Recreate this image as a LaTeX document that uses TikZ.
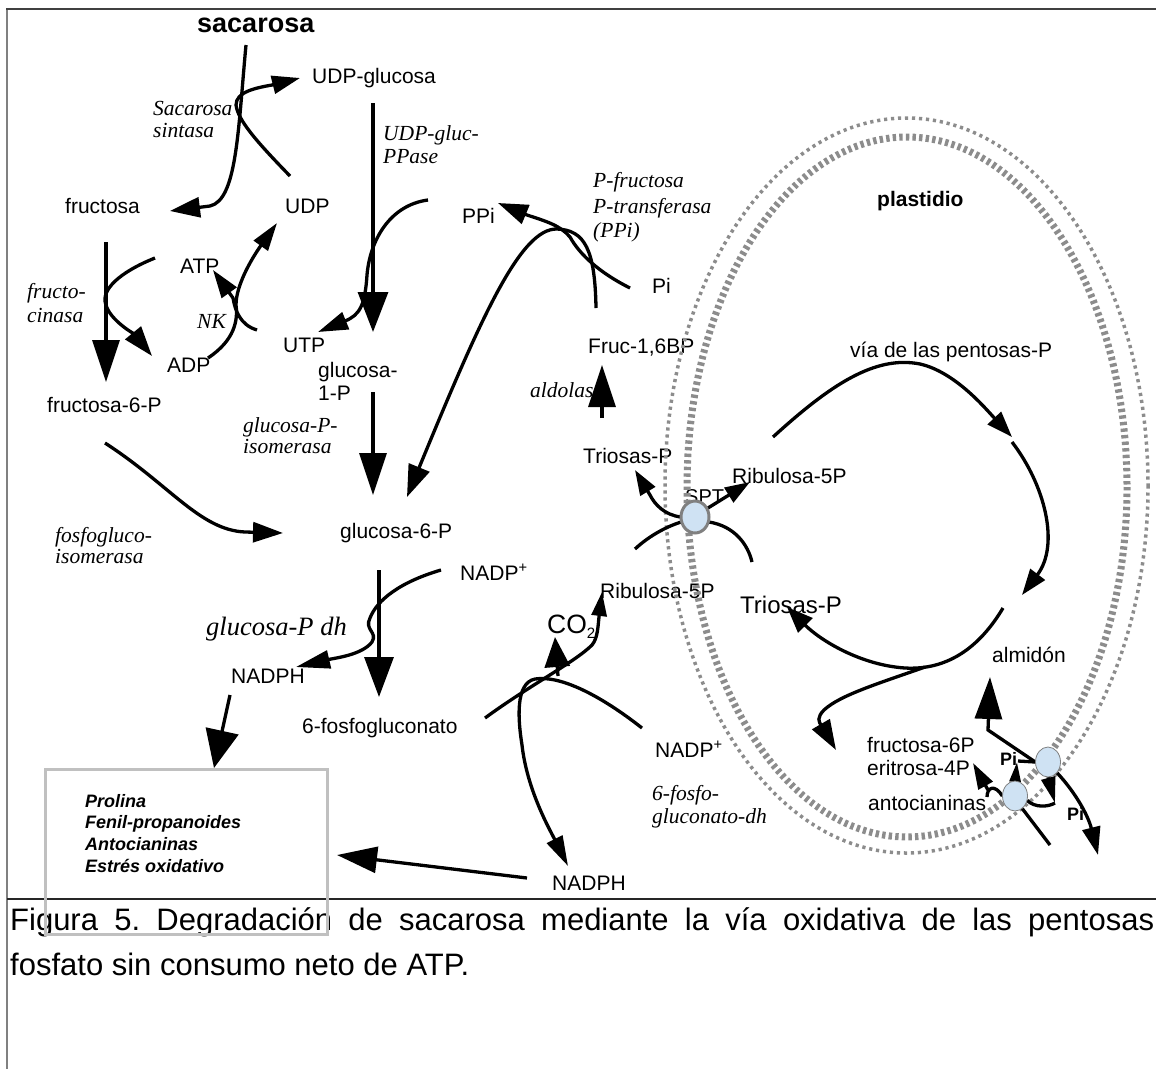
\documentclass[tikz,border=0pt]{standalone}
\usepackage{fontspec}
\setmainfont{Liberation Sans}
\newfontfamily\tnr{Liberation Serif}
\usetikzlibrary{arrows.meta,shapes.geometric}
\definecolor{memgray}{RGB}{140,140,140}
\definecolor{spfill}{RGB}{207,226,243}
\definecolor{boxgray}{RGB}{192,192,192}
\frenchspacing
\tikzset{
  lab/.style={inner sep=0pt, anchor=base west, font=\fontsize{21}{23}\selectfont},
  enz/.style={inner sep=0pt, anchor=base west, font=\tnr\itshape\fontsize{21.5}{23}\selectfont},
  boxtxt/.style={inner sep=0pt, anchor=base west, font=\bfseries\itshape\fontsize{18}{21}\selectfont},
  ln/.style={line width=3.3pt},
  aL/.style={ln, -{Triangle[length=42pt,width=27pt]}},
  aM/.style={ln, -{Triangle[length=30pt,width=20pt]}},
  aS/.style={ln, -{Triangle[length=25pt,width=17pt]}},
  memo/.style={draw=memgray, line width=3.5pt, dash pattern=on 3.2pt off 3.8pt},
  memi/.style={draw=memgray, line width=7pt, dash pattern=on 3.4pt off 3.2pt},
  transp/.style={ellipse, fill=spfill, inner sep=0pt},
}
\begin{document}
\begin{tikzpicture}[x=1pt,y=-1pt]
\useasboundingbox (0,0) rectangle (1156,1069);
% frame
\draw[line width=2.5pt, black!50] (7,9) -- (7,1069);
\draw[line width=2.5pt, black!75] (6,9) -- (1156,9);
\draw[line width=1.8pt, black!85] (7,899) -- (1156,899);

% ---------- labels ----------
\node[lab, font=\bfseries\fontsize{27}{30}\selectfont] (sac) at (197,32) {sacarosa};
\node[lab] (udpg) at (312,83) {UDP-glucosa};
\node[enz] (ss1) at (153,115) {Sacarosa};
\node[enz] (ss2) at (153,137) {sintasa};
\node[enz] (up1) at (383,140) {UDP-gluc-};
\node[enz] (up2) at (383,163) {PPase};
\node[lab] (fru) at (65,213) {fructosa};
\node[lab] (udp) at (285,213) {UDP};
\node[lab] (ppi) at (462,223) {PPi};
\node[enz] (pf1) at (593,187) {P-fructosa};
\node[enz] (pf2) at (593,213) {P-transferasa};
\node[enz] (pf3) at (593,237) {(PPi)};
\node[lab, font=\bfseries\fontsize{21}{23}\selectfont] (plast) at (877,206) {plastidio};
\node[lab] (atp) at (180,273) {ATP};
\node[lab] (pi) at (652,293) {Pi};
\node[enz] (fk1) at (27,298) {fructo-};
\node[enz] (fk2) at (27,322) {cinasa};
\node[enz] (nk) at (197,328) {NK};
\node[lab] (utp) at (283,352) {UTP};
\node[lab] (fbp) at (588,353) {Fruc-1,6BP};
\node[lab] (via) at (850,357) {vía de las pentosas-P};
\node[lab] (adp) at (167,372) {ADP};
\node[lab] (g1pa) at (318,377) {glucosa-};
\node[lab] (g1pb) at (318,400) {1-P};
\node[enz] (ald) at (530,397) {aldolasa};
\node[lab] (f6p) at (47,412) {fructosa-6-P};
\node[enz] (gpi1) at (243,432) {glucosa-P-};
\node[enz] (gpi2) at (243,453) {isomerasa};
\node[lab] (tp1) at (583,463) {Triosas-P};
\node[lab] (ru1) at (732,483) {Ribulosa-5P};
\node[lab, font=\fontsize{20}{22}\selectfont] (sptl) at (685,503) {SPT};
\node[lab] (g6p) at (340,538) {glucosa-6-P};
\node[enz] (pgi1) at (55,542) {fosfogluco-};
\node[enz] (pgi2) at (55,563) {isomerasa};
\node[lab] (nadp1) at (460,580) {NADP\textsuperscript{+}};
\node[lab] (ru2) at (600,598) {Ribulosa-5P};
\node[lab, font=\fontsize{24}{26}\selectfont] (tp2) at (740,613) {Triosas-P};
\node[lab, font=\fontsize{26.5}{28}\selectfont] (co2) at (547,633) {CO\raisebox{-5pt}{\fontsize{15}{15}\selectfont 2}};
\node[enz, font=\tnr\itshape\fontsize{26.5}{28}\selectfont] (g6pdh) at (206,635) {glucosa-P dh};
\node[lab] (alm) at (992,662) {almidón};
\node[lab] (nadph1) at (231,683) {NADPH};
\node[lab] (pg6) at (302,733) {6-fosfogluconato};
\node[lab] (nadp2) at (655,757) {NADP\textsuperscript{+}};
\node[lab] (f6pb) at (867,752) {fructosa-6P};
\node[lab] (e4p) at (867,775) {eritrosa-4P};
\node[lab] (anto) at (868,810) {antocianinas};
\node[lab, font=\bfseries\fontsize{18}{20}\selectfont] (pia) at (1000,765) {Pi};
\node[lab, font=\bfseries\fontsize{18}{20}\selectfont] (pib) at (1067,820) {Pi};
\node[enz] (pgd1) at (652,800) {6-fosfo-};
\node[enz] (pgd2) at (652,823) {gluconato-dh};
\node[boxtxt] (bx1) at (85,807) {Prolina};
\node[boxtxt] (bx2) at (85,828) {Fenil-propanoides};
\node[boxtxt] (bx3) at (85,850) {Antocianinas};
\node[boxtxt] (bx4) at (85,872) {Estrés oxidativo};
\node[lab] (nadph2) at (552,890) {NADPH};

% ---------- plastid membranes ----------
\draw[memo] (906.5,485.5) ellipse [x radius=241.5, y radius=367.5];
\draw[memi] (907,487) ellipse [x radius=220, y radius=350];

% ---------- coordinates ----------
\coordinate (sucTop) at (246,45);
\coordinate (fruTip) at (170,211);
\coordinate (udpS) at (290,176);
\coordinate (udpgTip) at (300,78);
\coordinate (fruS) at (106,242);
\coordinate (f6pTip) at (106,382);
\coordinate (atpS) at (155,258);
\coordinate (adpTip) at (152,356);
\coordinate (adpS) at (208,358);
\coordinate (udpTip) at (277,223);
\coordinate (ntS) at (257,330);
\coordinate (atpTip) at (213,270);
\coordinate (upT) at (373,103);
\coordinate (g1pTip) at (373,332);
\coordinate (ppiS) at (428,200);
\coordinate (utpTip) at (318,332);
\coordinate (g1pS) at (373,392);
\coordinate (g6pTipA) at (373,495);
\coordinate (f6pS) at (105,443);
\coordinate (g6pTipB) at (283,533);
\coordinate (piS) at (630,288);
\coordinate (ppiTip) at (498,203);
\coordinate (fbpS) at (596,308);
\coordinate (g6pTipC) at (407,497);
\coordinate (tpS) at (602,418);
\coordinate (fbpTip) at (602,365);
\coordinate (tp1Tip) at (635,470);
\coordinate (ru1Tip) at (750,482);
\coordinate (sptL) at (635,549);
\coordinate (sptR) at (752,562);
\coordinate (pcS) at (773,437);
\coordinate (pcT1) at (1012,437);
\coordinate (pcR) at (1012,442);
\coordinate (pcT2) at (1022,595);
\coordinate (pcB) at (1003,608);
\coordinate (tp2Tip) at (787,607);
\coordinate (pcC) at (925,667);
\coordinate (dnTip) at (836,750);
\coordinate (g6pS) at (379,570);
\coordinate (pgTip) at (379,697);
\coordinate (nadp1S) at (441,570);
\coordinate (nadph1Tip) at (296,667);
\coordinate (nadph1S) at (230,695);
\coordinate (boxTipA) at (214,768);
\coordinate (nadph2S) at (527,878);
\coordinate (boxTipB) at (337,855);
\coordinate (pgS) at (485,718);
\coordinate (ru2Tip) at (602,592);
\coordinate (co2S) at (558,676);
\coordinate (co2Tip) at (555,637);
\coordinate (nadp2S) at (642,728);
\coordinate (nadph2Tip) at (568,866);
\coordinate (almK) at (988,730);
\coordinate (almTip) at (990,677);
\coordinate (piaL) at (1018,761);
\coordinate (piaTip) at (1017,762);
\coordinate (dnTipB) at (1055,803);
\coordinate (pibTip) at (1098,855);
\coordinate (e4pS) at (988,790);
\coordinate (e4pTip) at (973,763);
\coordinate (tBend) at (1050,845);

% transporter nodes (positions)
\node[transp, minimum width=28pt, minimum height=32pt] (spt) at (695,517) {};
\node[transp, minimum width=25pt, minimum height=30pt] (tA) at (1048,762) {};
\node[transp, minimum width=25pt, minimum height=30pt] (tB) at (1015,796) {};

% ---------- connectors ----------
% sacarosa sintasa
\draw[ln, -{Triangle[length=30pt,width=20pt]}] (sucTop) .. controls (238,130) and (237,200) .. (210,206) -- (fruTip);
\draw[ln, -{Triangle[length=28pt,width=18pt]}] (udpS) .. controls (255,140) and (238,120) .. (236,105) .. controls (236,92) and (255,88) .. (272,85) -- (udpgTip);
% fructocinasa
\draw[aL] (fruS) -- (f6pTip);
\draw[aM] (atpS) .. controls (120,272) and (100,290) .. (106,305) .. controls (110,320) and (134,334) .. (adpTip);
% NK
\draw[ln, -{Triangle[length=28pt,width=17pt]}] (adpS) .. controls (235,340) and (238,320) .. (236,305) .. controls (236,285) and (252,258) .. (udpTip);
\draw[ln, -{Triangle[length=28pt,width=18pt]}] (ntS) .. controls (240,325) and (235,310) .. (233,298) -- (atpTip);
% UDP-gluc-PPase
\draw[ln, -{Triangle[length=40pt,width=30pt]}] (upT) -- (g1pTip);
\draw[ln, -{Triangle[length=30pt,width=18pt]}] (ppiS) .. controls (390,205) and (370,240) .. (367,275) .. controls (365,305) and (360,315) .. (345,321) -- (utpTip);
% glucosa-P-isomerasa
\draw[aL] (g1pS) -- (g6pTipA);
% fosfogluco-isomerasa
\draw[aM] (f6pS) .. controls (170,485) and (200,530) .. (245,532) -- (g6pTipB);
% PFP
\draw[aM] (piS) .. controls (600,273) and (580,255) .. (570,237) .. controls (560,225) and (545,221) .. (527,215) -- (ppiTip);
\draw[ln, -{Triangle[length=32pt,width=22pt]}] (fbpS) .. controls (595,250) and (585,230) .. (557,229) .. controls (520,228) and (480,320) .. (g6pTipC);
% aldolasa
\draw[aL] (tpS) -- (fbpTip);
% SPT
\draw[aS] (spt.west) .. controls (665,515) and (655,505) .. (650,495) -- (tp1Tip);
\draw[aS] (spt.35) -- (ru1Tip);
\draw[ln] (sptL) .. controls (650,535) and (668,526) .. (spt.200);
\draw[ln] (spt.-20) .. controls (735,526) and (748,545) .. (sptR);
% pentose cycle
\draw[ln, -{Triangle[length=26pt,width=18pt]}] (pcS) .. controls (830,385) and (875,355) .. (920,364) .. controls (955,372) and (985,408) .. (pcT1);
\draw[ln, -{Triangle[length=26pt,width=18pt]}] (pcR) .. controls (1045,485) and (1060,545) .. (pcT2);
\draw[ln, -{Triangle[length=26pt,width=20pt]}] (pcB) .. controls (975,655) and (940,670) .. (905,668) .. controls (860,665) and (820,640) .. (tp2Tip);
\draw[ln, -{Triangle[length=30pt,width=20pt]}] (pcC) .. controls (880,683) and (840,695) .. (824,710) .. controls (817,717) and (818,722) .. (822,726) -- (dnTip);
% glucosa-P dh
\draw[ln, -{Triangle[length=40pt,width=29pt]}] (g6pS) -- (pgTip);
\draw[ln, -{Triangle[length=34pt,width=18pt]}] (nadp1S) .. controls (400,582) and (377,600) .. (370,618) .. controls (364,630) and (378,632) .. (372,642) .. controls (362,655) and (335,658) .. (nadph1Tip);
% NADPH -> box
\draw[ln, -{Triangle[length=38pt,width=33pt]}] (nadph1S) -- (boxTipA);
\draw[ln, -{Triangle[length=40pt,width=26pt]}] (nadph2S) -- (boxTipB);
% 6-fosfogluconato-dh
\draw[ln, -{Triangle[length=24pt,width=15pt]}] (pgS) .. controls (530,685) and (575,662) .. (592,645) .. controls (598,638) and (598,625) .. (ru2Tip);
\draw[ln, -{Triangle[length=30pt,width=25pt]}] (co2S) -- (co2Tip);
\draw[ln, -{Triangle[length=30pt,width=17pt]}] (nadp2S) .. controls (600,695) and (560,675) .. (535,679) .. controls (515,683) and (518,720) .. (522,745) .. controls (527,790) and (550,830) .. (nadph2Tip);
% plastid transporters
\draw[aL] (tA.west) -- (almK) -- (almTip);
\draw[ln] (piaL) -- (tA.west);
\draw[ln, -{Triangle[length=20pt,width=11pt]}] ([yshift=-2pt]tB.north) -- (piaTip);
\draw[ln, -{Triangle[length=26pt,width=14pt]}] (tA.south) -- (dnTipB);
\draw[ln] (tB.-20) .. controls (1035,808) and (1048,807) .. (dnTipB);
\draw[ln, -{Triangle[length=28pt,width=18pt]}] (tA.-50) .. controls (1075,792) and (1088,815) .. (pibTip);
\draw[ln] (tB.west) .. controls (995,784) and (987,787) .. (987,797);
\draw[ln, -{Triangle[length=26pt,width=16pt]}] (e4pS) -- (e4pTip);
\draw[ln] (tB.-60) -- (tBend);

% transporters on top
\node[transp, draw=black!50, line width=3pt, minimum width=28pt, minimum height=32pt] (sptC) at (spt) {};
\node[transp, draw=black!50, line width=0.8pt, minimum width=25pt, minimum height=30pt] (tAC) at (tA) {};
\node[transp, draw=black!50, line width=0.8pt, minimum width=25pt, minimum height=30pt] (tBC) at (tB) {};

% ---------- caption ----------
\node[inner sep=0pt, anchor=base west, font=\fontsize{31}{36}\selectfont] (cap1) at (10,930)
  {\makebox[1144pt][s]{Figura 5. Degradación de sacarosa mediante la vía oxidativa de las pentosas}};
\node[inner sep=0pt, anchor=base west, font=\fontsize{31}{36}\selectfont] (cap2) at (10,975)
  {fosfato sin consumo neto de ATP.};

% product box
\node[draw=boxgray, line width=3pt, minimum width=282pt, minimum height=165pt, inner sep=0pt, anchor=north west] (box) at (44,768) {};
\end{tikzpicture}
\end{document}
